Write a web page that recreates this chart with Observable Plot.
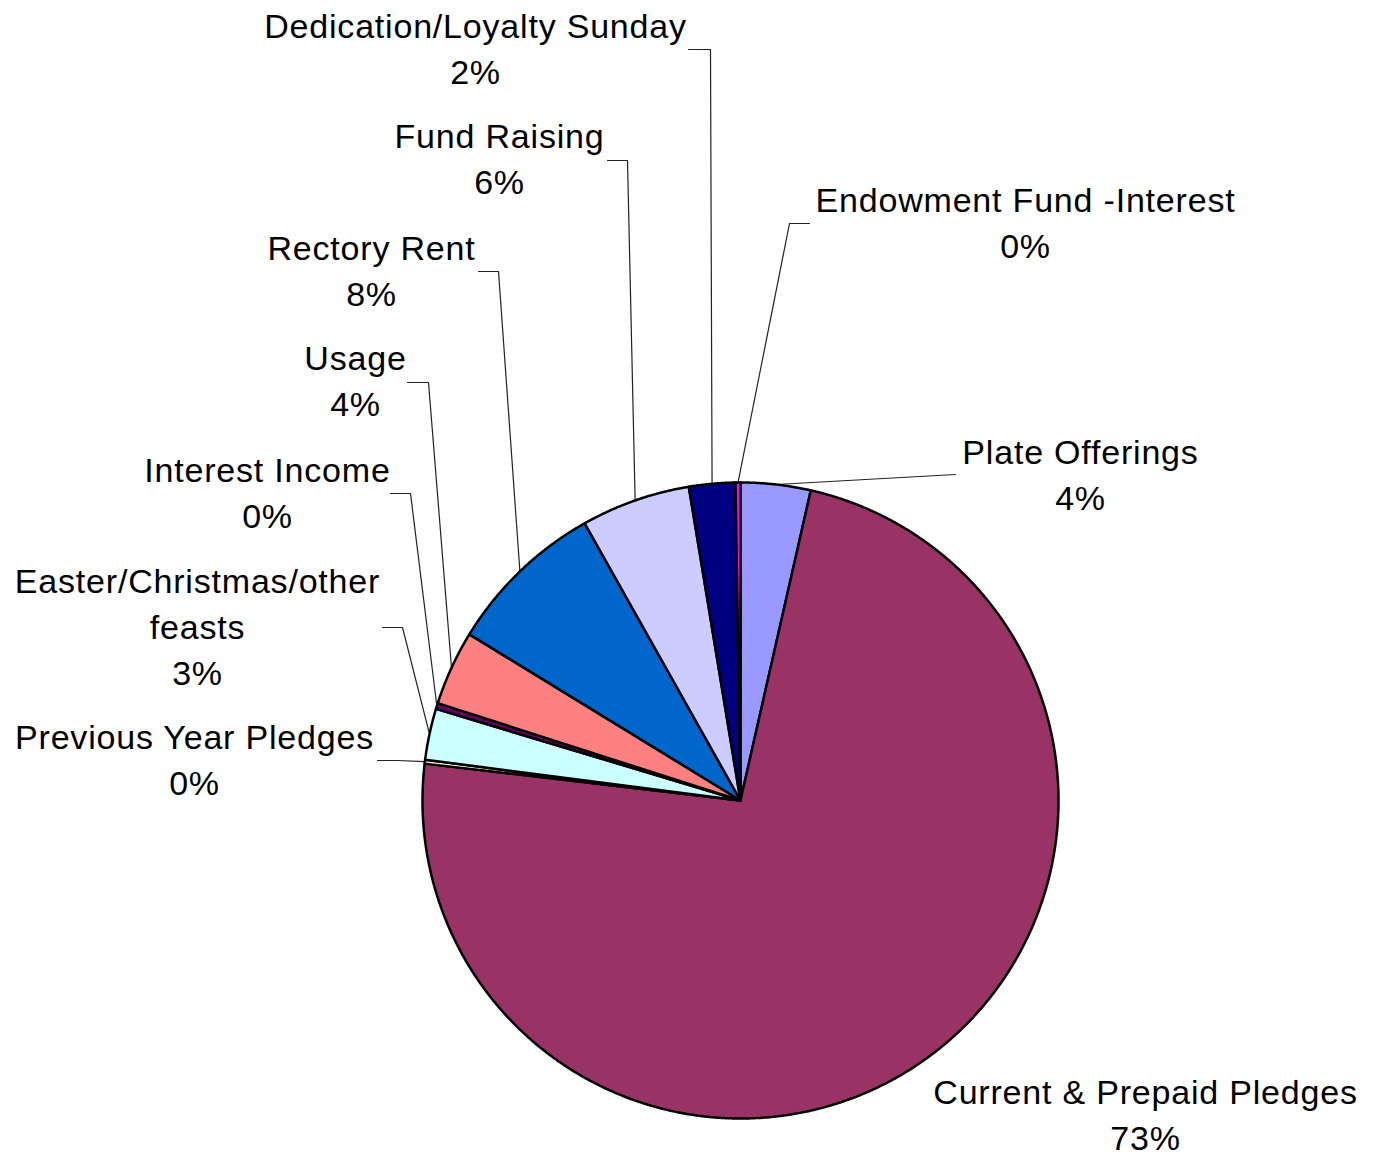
<!DOCTYPE html>
<html>
<head>
<meta charset="utf-8">
<script src="https://cdn.jsdelivr.net/npm/d3@7"></script>
<script src="https://cdn.jsdelivr.net/npm/@observablehq/plot@0.6"></script>
<style>
  html, body { margin: 0; padding: 0; background: #ffffff; }
</style>
</head>
<body>
<div id="chart"></div>
<script>
// ---- data ----
const categories = [
  "Plate Offerings",
  "Current & Prepaid Pledges",
  "Previous Year Pledges",
  "Easter/Christmas/other feasts",
  "Interest Income",
  "Usage",
  "Rectory Rent",
  "Fund Raising",
  "Dedication/Loyalty Sunday",
  "Endowment Fund -Interest"
];
const labelLines = [
  ["Plate Offerings"],
  ["Current & Prepaid Pledges"],
  ["Previous Year Pledges"],
  ["Easter/Christmas/other", "feasts"],
  ["Interest Income"],
  ["Usage"],
  ["Rectory Rent"],
  ["Fund Raising"],
  ["Dedication/Loyalty Sunday"],
  ["Endowment Fund -Interest"]
];
const shares = [3.55, 73.3, 0.2, 2.6, 0.3, 3.8, 8.1, 5.55, 2.35, 0.25];
const colors = ["#9999FF", "#993366", "#FFFFCC", "#CCFFFF", "#660066", "#FF8080", "#0066CC", "#CCCCFF", "#000080", "#FF00FF"];

// ---- layout ----
const W = 1380, H = 1157, CX = 740, CY = 800, R = 318;
const FS = 34, LINE = 46;
const labelX = [1080, 1145, 194, 197, 267, 355, 371, 499, 475, 1025];
const labelBaseline = [463, 1103, 748, 592, 481, 369, 259, 147, 37, 211];
const elbows = [
  [[955, 474]],
  [],
  [[397, 760], [377, 760]],
  [[402, 627], [382, 627]],
  [[410, 493], [390, 493]],
  [[428, 382], [407, 382]],
  [[498, 271], [478, 271]],
  [[627, 160], [607, 160]],
  [[710, 49], [688, 49]],
  [[789, 223], [809, 223]]
];

// ---- geometry from values ----
const total = d3.sum(shares);
let acc = 0;
const slices = shares.map((v, i) => {
  const a0 = acc / total * 2 * Math.PI;
  acc += v;
  const a1 = acc / total * 2 * Math.PI;
  return {name: categories[i], a0, a1, pct: Math.round(v / total * 100)};
});

const pts = [];
slices.forEach(s => {
  pts.push({name: s.name, x: CX, y: CY});
  const n = Math.max(2, Math.ceil((s.a1 - s.a0) / (Math.PI / 720)));
  for (let k = 0; k <= n; k++) {
    const a = s.a0 + (s.a1 - s.a0) * k / n;
    pts.push({name: s.name, x: CX + R * Math.sin(a), y: CY - R * Math.cos(a)});
  }
  pts.push({name: s.name, x: CX, y: CY});
});

const leaders = [];
slices.forEach((s, i) => {
  if (!elbows[i].length) return;
  const am = (s.a0 + s.a1) / 2;
  leaders.push({name: s.name, x: CX + R * Math.sin(am), y: CY - R * Math.cos(am)});
  elbows[i].forEach(([x, y]) => leaders.push({name: s.name, x, y}));
});

const labels = slices.map((s, i) => {
  const lines = [...labelLines[i], s.pct + "%"];
  return {
    text: lines.join("\n"),
    x: labelX[i],
    y: labelBaseline[i] + (lines.length - 1) * LINE
  };
});

const chart = Plot.plot({
  width: W,
  height: H,
  margin: 0,
  x: {domain: [0, W], range: [0, W], axis: null},
  y: {domain: [0, H], range: [0, H], axis: null},
  color: {domain: categories, range: colors},
  style: "font-family: 'Liberation Sans', Arial, sans-serif; letter-spacing: 0.8px; background: #fff;",
  marks: [
    Plot.line(leaders, {x: "x", y: "y", z: "name", stroke: "#222", strokeWidth: 1.2}),
    Plot.line(pts, {x: "x", y: "y", z: "name", fill: "name", stroke: "#000", strokeWidth: 2.5, strokeLinejoin: "round"}),
    Plot.text(labels, {
      x: "x", y: "y", text: "text",
      fontSize: FS,
      fontFamily: "'Liberation Sans', Arial, sans-serif",
      textAnchor: "middle",
      lineAnchor: "bottom",
      lineHeight: LINE / FS,
      fill: "#000"
    })
  ]
});
document.getElementById("chart").appendChild(chart);
</script>
</body>
</html>
